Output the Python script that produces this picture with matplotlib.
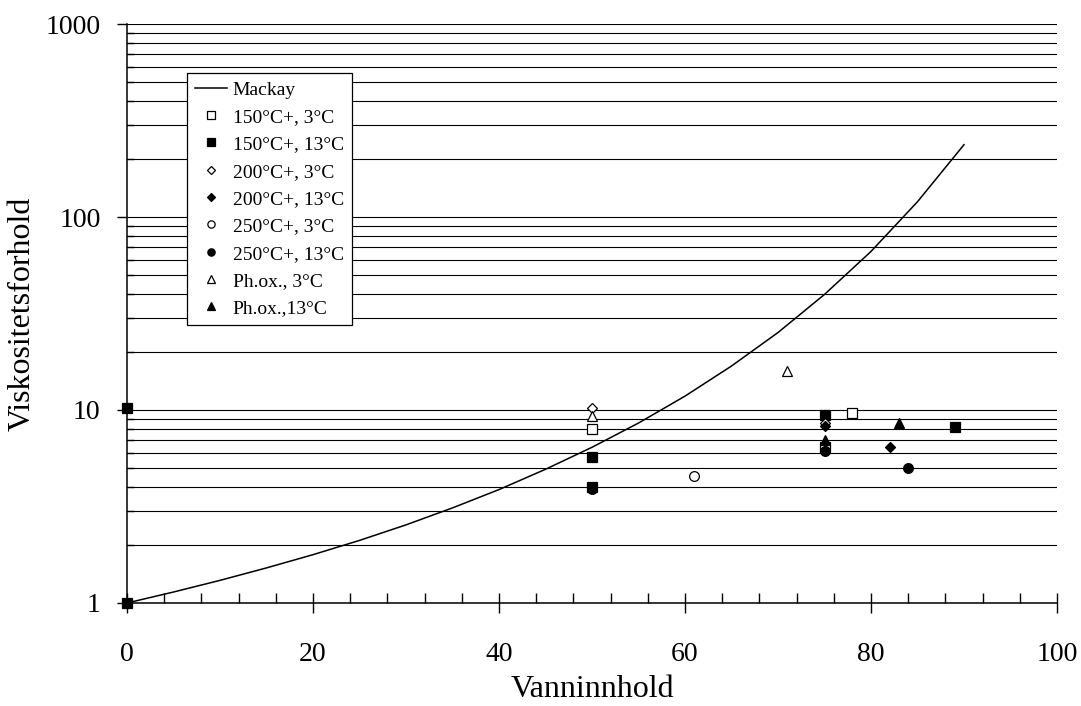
import numpy as np
import matplotlib.pyplot as plt
import matplotlib
from matplotlib.ticker import LogLocator, MultipleLocator, NullFormatter

matplotlib.rcParams["font.family"] = ["Liberation Serif", "DejaVu Serif"]

# Mackay-kurve
mackay_x = [0, 5, 10, 15, 20, 25, 30, 35, 40, 45, 50, 55, 60, 65, 70, 75, 80, 85, 90]
mackay_y = [1.0, 1.14, 1.31, 1.52, 1.78, 2.11, 2.54, 3.11, 3.87, 4.93, 6.41, 8.56,
            11.8, 16.9, 25.2, 39.7, 66.3, 120, 237]

# målepunkter
s150_3_x, s150_3_y = [50, 75, 78], [8.0, 6.4, 9.7]
s150_13_x, s150_13_y = [0, 0, 50, 50, 75, 89], [1.0, 10.2, 5.7, 4.0, 9.4, 8.2]
s200_3_x, s200_3_y = [50, 75], [10.3, 8.6]
s200_13_x, s200_13_y = [75, 82], [8.3, 6.4]
s250_3_x, s250_3_y = [61], [4.55]
s250_13_x, s250_13_y = [50, 75, 84], [3.9, 6.1, 5.0]
phox_3_x, phox_3_y = [50, 71], [9.3, 15.9]
phox_13_x, phox_13_y = [75, 83], [7.0, 8.6]

series = [
    ("150°C+, 3°C", s150_3_x, s150_3_y, "s", "white"),
    ("150°C+, 13°C", s150_13_x, s150_13_y, "s", "black"),
    ("200°C+, 3°C", s200_3_x, s200_3_y, "D", "white"),
    ("200°C+, 13°C", s200_13_x, s200_13_y, "D", "black"),
    ("250°C+, 3°C", s250_3_x, s250_3_y, "o", "white"),
    ("250°C+, 13°C", s250_13_x, s250_13_y, "o", "black"),
    ("Ph.ox., 3°C", phox_3_x, phox_3_y, "^", "white"),
    ("Ph.ox.,13°C", phox_13_x, phox_13_y, "^", "black"),
]
msizes = {"s": 7, "D": 5.5, "o": 7, "^": 7.5}

fig = plt.figure(figsize=(10.81, 7.06), dpi=100)
ax = fig.add_axes([0.1175, 0.1459, 0.8603, 0.8201])

ax.plot(mackay_x, mackay_y, color="black", lw=1.1, label="Mackay", zorder=3)
for name, xs, ys, m, fc in series:
    ax.plot(xs, ys, linestyle="none", marker=m, markersize=msizes[m],
            markerfacecolor=fc, markeredgecolor="black", markeredgewidth=0.9,
            label=name, zorder=4, clip_on=False)

ax.set_yscale("log")
ax.set_xlim(0, 100)
ax.set_ylim(1, 1000)

ax.xaxis.set_major_locator(MultipleLocator(20))
ax.xaxis.set_minor_locator(MultipleLocator(4))
ax.set_yticks([1, 10, 100, 1000])
ax.set_yticklabels(["1", "10", "100", "1000"])
ax.yaxis.set_minor_locator(LogLocator(base=10, subs=np.arange(2, 10), numticks=20))
ax.yaxis.set_minor_formatter(NullFormatter())

ax.grid(True, which="both", axis="y", color="black", lw=0.8)
ax.set_axisbelow(True)

ax.tick_params(axis="x", which="major", direction="inout", length=14, width=1,
               labelsize=20, pad=21)
ax.tick_params(axis="x", which="minor", direction="in", length=7, width=1)
ax.tick_params(axis="y", which="major", direction="out", length=7, width=1,
               labelsize=20, pad=12)
ax.tick_params(axis="y", which="minor", direction="in", length=5, width=1)

for side in ["top", "right"]:
    ax.spines[side].set_visible(False)
ax.spines["left"].set_linewidth(1.1)
ax.spines["bottom"].set_linewidth(1.1)

ax.set_xlabel("Vanninnhold", fontsize=23)
ax.set_ylabel("Viskositetsforhold", fontsize=23)
ax.xaxis.set_label_coords(0.5, -0.125)
ax.yaxis.set_label_coords(-0.097, 0.5)

leg = ax.legend(loc="upper left", bbox_to_anchor=(0.0645, 0.915), borderaxespad=0,
                fontsize=14, frameon=True, fancybox=False, framealpha=1,
                edgecolor="black", handlelength=1.65, handletextpad=0.3,
                labelspacing=0.5, borderpad=0.4, markerscale=0.75)
leg.get_frame().set_linewidth(0.9)

fig.savefig("out.png", dpi=100)
